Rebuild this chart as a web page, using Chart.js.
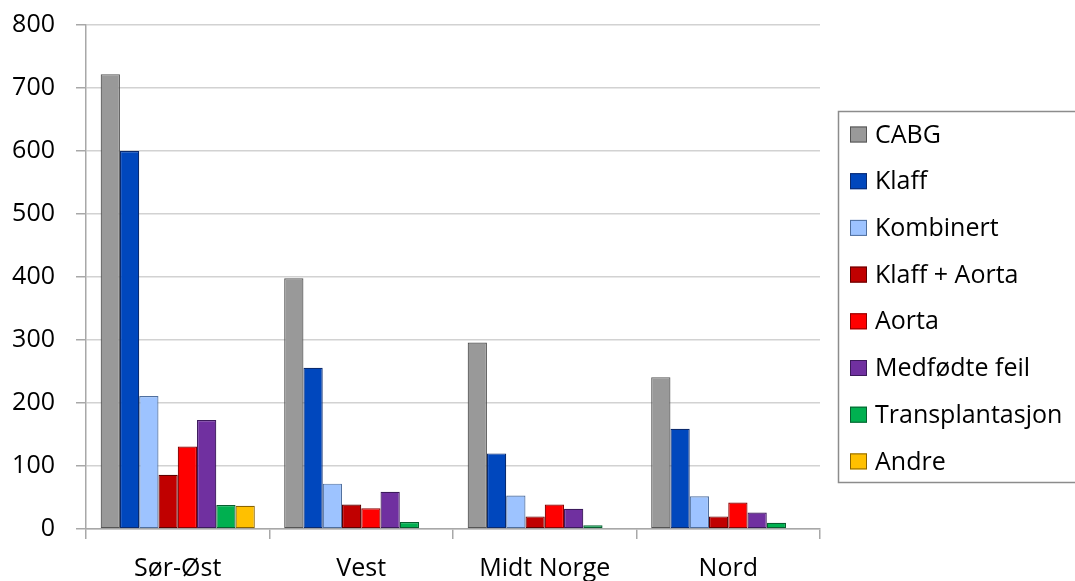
<!DOCTYPE html>
<html>
<head>
<meta charset="utf-8">
<script src="https://cdn.jsdelivr.net/npm/chart.js@4/dist/chart.umd.min.js"></script>
<style>
  html, body { margin: 0; padding: 0; background: #ffffff; }
  #wrap { width: 1075px; height: 581px; }
</style>
</head>
<body>
<div id="wrap"><canvas id="c" width="1075" height="581"></canvas></div>
<script>
// Operations per region, by type of procedure
const regions = ['Sør-Øst', 'Vest', 'Midt Norge', 'Nord'];

const cabg            = [722, 398, 296, 241];
const klaff           = [600, 256, 120, 159];
const kombinert       = [211,  72,  53,  52];
const klaffAorta      = [ 86,  39,  20,  20];
const aorta           = [131,  33,  39,  42];
const medfodteFeil    = [173,  59,  32,  26];
const transplantasjon = [ 38,  11,   6,  10];
const andre           = [ 37,   0,   0,   0];

const yTicks = { min: 0, max: 800, step: 100 };

const seriesNames = ['CABG', 'Klaff', 'Kombinert', 'Klaff + Aorta', 'Aorta', 'Medfødte feil', 'Transplantasjon', 'Andre'];
const seriesValues = [cabg, klaff, kombinert, klaffAorta, aorta, medfodteFeil, transplantasjon, andre];
const fills   = ['#999999', '#0047BD', '#9DC3FF', '#C00000', '#FF0000', '#7030A0', '#00B050', '#FFC000'];
const strokes = ['#555555', '#0a2a6e', '#4f6f9e', '#5e0000', '#8a0000', '#3c1a5c', '#085e30', '#8a6400'];

const FONT = '"Open Sans", "DejaVu Sans", sans-serif';
const TEXT = '#000000';

// Boxed legend on the right, drawn from the dataset styles
const boxedLegend = {
  id: 'boxedLegend',
  afterDraw(chart) {
    const ctx = chart.ctx;
    const left = 838.5, top = 111.5, bottom = 482.5, right = 1090;
    ctx.save();
    ctx.strokeStyle = '#8c8c8c';
    ctx.lineWidth = 1.5;
    ctx.strokeRect(left, top, right - left, bottom - top);
    const firstY = 134.5, step = 46.7;
    ctx.font = '25px ' + FONT;
    ctx.textBaseline = 'middle';
    ctx.textAlign = 'left';
    chart.data.datasets.forEach((ds, i) => {
      const cy = firstY + i * step;
      ctx.fillStyle = ds.backgroundColor;
      ctx.fillRect(850, cy - 8, 17, 16);
      ctx.strokeStyle = ds.borderColor;
      ctx.lineWidth = 1;
      ctx.strokeRect(850.5, cy - 7.5, 16, 15);
      ctx.fillStyle = TEXT;
      ctx.fillText(ds.label, 875, cy + 1);
    });
    ctx.restore();
  }
};

new Chart(document.getElementById('c'), {
  type: 'bar',
  data: {
    labels: regions,
    datasets: seriesNames.map((name, i) => ({
      label: name,
      data: seriesValues[i],
      backgroundColor: fills[i],
      borderColor: strokes[i],
      borderWidth: 1.2,
      borderSkipped: false,
      categoryPercentage: 0.84,
      barPercentage: 1.0
    }))
  },
  options: {
    responsive: false,
    animation: false,
    devicePixelRatio: 1,
    layout: { padding: { top: 25, right: 255, left: 0, bottom: 0 } },
    plugins: {
      legend: { display: false },
      tooltip: { enabled: false }
    },
    scales: {
      x: {
        grid: {
          display: true,
          drawOnChartArea: false,
          drawTicks: true,
          tickLength: 10,
          color: '#a8a8a8',
          lineWidth: 1.5,
          offset: true
        },
        border: { display: true, color: '#a8a8a8', width: 1.5 },
        ticks: {
          color: TEXT,
          font: { family: FONT, size: 25 },
          padding: 15,
          maxRotation: 0
        },
        afterFit(scale) { scale.height = 52; }
      },
      y: {
        min: yTicks.min,
        max: yTicks.max,
        grid: {
          color: '#d2d2d2',
          lineWidth: 1.5,
          drawTicks: true,
          tickLength: 10,
          tickColor: '#a8a8a8'
        },
        border: { display: true, color: '#a8a8a8', width: 1.5 },
        ticks: {
          stepSize: yTicks.step,
          color: TEXT,
          font: { family: FONT, size: 25 },
          padding: 21
        },
        afterFit(scale) {
          scale.width = 86;
          scale.paddingTop = 0;
          scale.paddingBottom = 0;
        }
      }
    }
  },
  plugins: [boxedLegend]
});
</script>
</body>
</html>
